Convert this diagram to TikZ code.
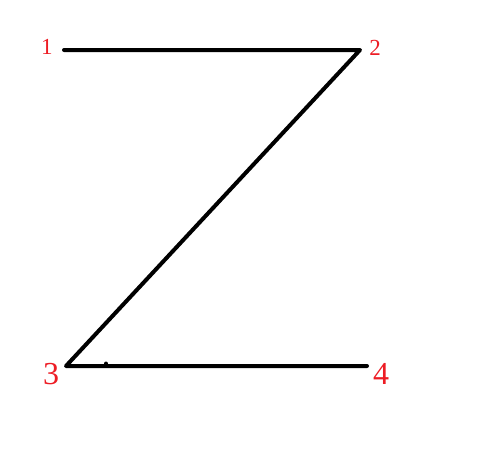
\documentclass[tikz,border=0pt]{standalone}
\usepackage{fontspec}
\setmainfont{Liberation Serif}
\definecolor{lblred}{RGB}{237,28,36}
\begin{document}
\begin{tikzpicture}[x=1pt,y=-1pt,
  seg/.style={line width=4pt,line cap=round,line join=round,black},
  lbls/.style={text=lblred,font=\fontsize{23}{23}\selectfont,inner sep=0pt},
  lblb/.style={text=lblred,font=\fontsize{32}{32}\selectfont,inner sep=0pt}]
\useasboundingbox (0,0) rectangle (477,455);
\coordinate (p1) at (64,50);
\coordinate (p2) at (360,50);
\coordinate (p3) at (66,366);
\coordinate (p4) at (367,366);
\draw[seg] (p1) -- (p2) -- (p3) -- (p4);
\fill (106,363.5) circle (2pt);
\node[lbls] (n1) at (47,47) {1};
\node[lbls] (n2) at (375,47.5) {2};
\node[lblb] (n3) at (51,374) {3};
\node[lblb] (n4) at (381,374) {4};
\end{tikzpicture}
\end{document}
